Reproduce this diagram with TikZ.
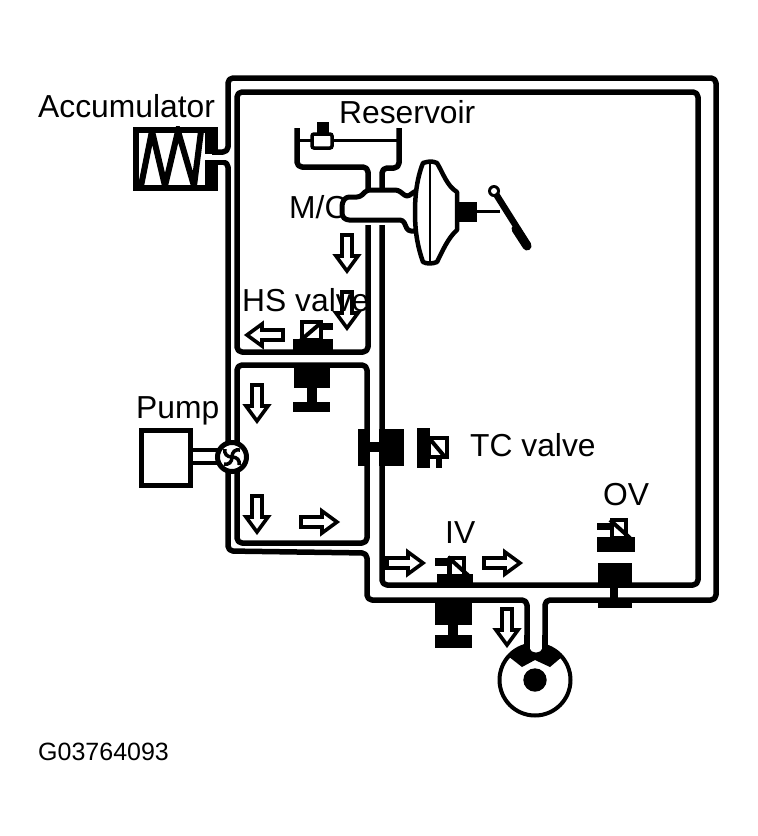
\documentclass[tikz,border=0pt]{standalone}
\usepackage{fontspec}
\setmainfont{Liberation Sans}
\begin{document}
\begin{tikzpicture}[x=1pt,y=-1pt,
  pipe/.style={line width=5.5pt,line join=round,rounded corners=5pt},
  thinpipe/.style={line width=3pt},
  label/.style={font=\fontsize{31.8}{33}\selectfont,anchor=base west,inner sep=0pt},
  codelabel/.style={font=\fontsize{25}{26}\selectfont,anchor=base west,inner sep=0pt},
  blk/.style={fill=black,draw=none},
  flow/.pic={\draw[line width=3.6pt,fill=white,line join=miter,miter limit=3]
     (-18,-5)--(3,-5)--(3,-11)--(18,0)--(3,11)--(3,5)--(-18,5)--cycle;},
  coil/.style={draw=black,line width=4pt,fill=white}]
\useasboundingbox (0,0) rectangle (758,836);
\fill[white] (0,0) rectangle (758,836);
% text under the master cylinder
\node[label] (mc) at (289,218) {M/C};
% coordinates of the pipe runs
\coordinate (accU) at (217,152);
\coordinate (accL) at (217,162);
\coordinate (gaugeL) at (527,650);
\coordinate (gaugeR) at (545,650);
% outer loop
\draw[pipe] (accU)--(228,152)--(228,78)--(716,78)--(716,600)--(545,600)--(gaugeR);
\draw[pipe] (accL)--(228,162)--(228,551)--(367,553)--(367,600)--(527,600)--(gaugeL);
% inner loop
\draw[pipe] (368,225)--(368,352)--(237,352)--(237,92)--(698,92)--(698,585)--(382,585)--(382,225);
% lower box
\draw[pipe] (237,365) rectangle (367,543);
% reservoir
\draw[pipe] (297,128)--(297,167)--(368,167)--(368,192);
\draw[pipe] (399,128)--(399,168)--(382,168)--(382,192);
\draw[thinpipe] (297,140)--(399,140);
\fill[blk] (317,122) rectangle (329,134);
\draw[line width=3.5pt,fill=white,rounded corners=2pt] (312,134) rectangle (332,148);
% master cylinder and booster
\draw[line width=5pt,fill=white,line join=round,rounded corners=3pt]
  (360,197)--(346,197)--(342,203)--(342,216)--(346,220)--(403,220)--(408,231)--(417,231)--(417,190)--(407,197)--(398,190)--(367,190)--cycle;
\draw[line width=4.5pt,fill=white,line join=round]
  (423,163) .. controls (430,161) and (432,161) .. (437,163)
  .. controls (443,173) and (447,186) .. (457,192)
  -- (457,230) .. controls (448,238) and (443,250) .. (437,262)
  .. controls (432,264) and (427,264) .. (423,262)
  .. controls (417,245) and (415,230) .. (415,212)
  .. controls (415,195) and (417,178) .. (423,163) -- cycle;
\draw[line width=2.5pt] (430,163)--(430,262);
\fill[blk] (458,202) rectangle (477,222);
\draw[line width=3pt] (477,211)--(500,211);
\draw[line width=6.5pt,line cap=round] (494,191)--(528,245);
\draw[line width=9pt,line cap=round] (516,229)--(527,246);
\fill (494,191) circle (6);
\fill[white] (494,191) circle (3);
% accumulator
\node[draw,line width=6pt,minimum width=79pt,minimum height=58pt,inner sep=0pt,fill=white] (accum) at (175,158.5) {};
\begin{scope}
\clip (accum.north west) rectangle (accum.south east);
\draw[line width=6pt,line join=miter,miter limit=4] (141,186)--(152,131)--(165,186)--(178,131)--(194,186)--(201,131);
\end{scope}
\fill[blk] (205,127) rectangle (217,154);
\fill[blk] (205,160) rectangle (217,190);
\fill[white] (211,155) rectangle (230,159.5);
% pump
\node[draw,line width=5.5pt,minimum width=49pt,minimum height=55pt,inner sep=0pt,fill=white] (pumpbox) at (166,458) {};
\draw[line width=4.5pt] (pumpbox.east |- 0,450)--(218,450);
\draw[line width=4.5pt] (pumpbox.east |- 0,463)--(218,463);
\node[circle,draw,line width=5pt,fill=white,minimum size=29pt,inner sep=0pt] (pumpwheel) at (232,457) {};
\foreach \a in {0,90,180,270}
  \draw[line width=3.5pt,rotate around={\a:(pumpwheel.center)}] (232,457) .. controls (232,452) and (235,449) .. (240,450);
% HS valve
\fill[blk] (293,339) rectangle (333,355);
\draw[coil] (302,322) rectangle (321,340);
\draw[line width=4pt] (301,340)--(322,322);
\fill[blk] (323,323) rectangle (333,330);
\fill[blk] (294,367) rectangle (330,388);
\fill[blk] (307,388) rectangle (317,403);
\fill[blk] (293,402) rectangle (330,412);
% TC valve
\fill[blk] (358,429) rectangle (367,466);
\fill[blk] (367,442) rectangle (380,452);
\fill[blk] (379,429) rectangle (404,466);
\fill[blk] (417,428) rectangle (430,468);
\draw[coil] (429,438) rectangle (447,457);
\draw[line width=4pt] (429,438)--(445,457);
\fill[blk] (436,457) rectangle (442,468);
% IV
\fill[blk] (437,574) rectangle (473,584);
\draw[coil] (450,558) rectangle (464,576);
\draw[line width=4pt] (448,557)--(470,577);
\fill[blk] (435,558) rectangle (449,566);
\fill[blk] (447,566) rectangle (452,575);
\fill[blk] (435,602) rectangle (472,625);
\fill[blk] (448,625) rectangle (458,636);
\fill[blk] (435,635) rectangle (472,648);
% OV
\fill[blk] (597,537) rectangle (635,552);
\draw[coil] (612,520) rectangle (626,538);
\draw[line width=4pt] (610,520)--(630,538);
\fill[blk] (597,523) rectangle (611,530);
\fill[blk] (598,563) rectangle (632,585);
\fill[blk] (610,585) rectangle (618,600);
\fill[blk] (598,598) rectangle (632,608);
% wheel cylinder
\node[circle,draw,line width=4pt,fill=white,minimum size=71pt,inner sep=0pt] (wheel) at (535,680) {};
\fill[blk] (508,656) .. controls (515,650) and (522,646) .. (535,644.5) .. controls (548,646) and (555,650) .. (563,656) -- (550,667) -- (535,660) -- (522,667) -- cycle;
\fill[white] (529.5,640) -- (542.5,640) -- (542.5,648) .. controls (541,654) and (531,654) .. (529.5,648) -- cycle;
\draw[line width=5.5pt] (527,635) -- (gaugeL);
\draw[line width=5.5pt] (545,635) -- (gaugeR);
\fill[blk] (wheel.center) circle (11.7);
% flow arrows
\path (347,253) pic[rotate=-90] {flow};
\path (347,310) pic[rotate=-90] {flow};
\path (265,335) pic[rotate=180] {flow};
\path (257,403) pic[rotate=-90] {flow};
\path (257,514) pic[rotate=-90] {flow};
\path (319,522) pic {flow};
\path (405,563) pic {flow};
\path (502,563) pic {flow};
\path (507,627) pic[rotate=-90] {flow};
% labels
\node[label] (accl) at (38,117) {Accumulator};
\node[label] (resl) at (339,123) {Reservoir};
\node[label] (hsl) at (242,311) {HS valve};
\node[label] (puml) at (136,418) {Pump};
\node[label] (tcl) at (470,456) {TC valve};
\node[label] (ovl) at (603,505) {OV};
\node[label] (ivl) at (445,543) {IV};
\node[codelabel] (code) at (38,760) {G03764093};
\end{tikzpicture}
\end{document}
